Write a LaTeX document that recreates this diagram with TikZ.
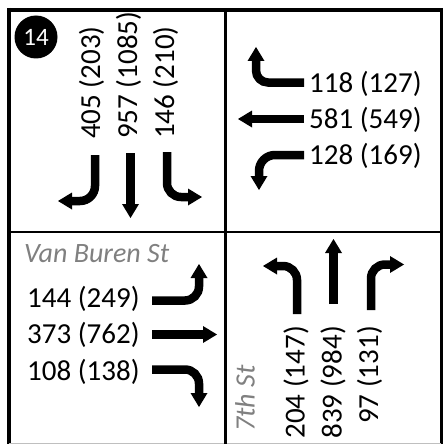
\documentclass[tikz,border=0pt]{standalone}
\usepackage{fontspec}
\setmainfont{Carlito}
\usetikzlibrary{arrows.meta}
\definecolor{labelgray}{RGB}{128,128,128}
\begin{document}
\begin{tikzpicture}[x=1pt,y=-1pt,
  num/.style={font=\fontsize{29}{29}\selectfont, inner sep=0pt},
  street/.style={font=\fontsize{28}{28}\selectfont\itshape, text=labelgray, inner sep=0pt},
  mv/.style={line width=8.5pt, -{Triangle[length=14pt 0 0,width=17pt 0 0,line width=0pt 0 0]}},
  frame/.style={line width=4pt},
  divider/.style={line width=2.7pt}]
\useasboundingbox (0,0) rectangle (443,444);
\fill[white] (0,0) rectangle (443,444);
% frame
\draw[frame] (7,10) -- (443,10);
\draw[frame] (9,8) -- (9,444);
\draw[line width=2.6pt] (441.7,8) -- (441.7,444);
\draw[black!25, line width=1pt] (9,443.5) -- (441,443.5);
% dividers
\draw[divider] (225.5,10) -- (225.5,444);
\draw[divider] (9,232) -- (441,232);
% badge
\node[circle, fill=black, minimum size=43pt, inner sep=0pt, text=white,
      font=\fontsize{25}{25}\selectfont] (badge) at (36,37) {14};
% southbound (top-left)
\node[num, rotate=90, anchor=base west] (s1) at (100,139) {405 (203)};
\node[num, rotate=90, anchor=base west] (s2) at (137,139) {957 (1085)};
\node[num, rotate=90, anchor=base west] (s3) at (174,139) {146 (210)};
\draw[mv, rounded corners=15pt] (95,155) -- (95,201) -- (58,201);
\draw[mv] (130.5,153) -- (130.5,218);
\draw[mv, rounded corners=14pt] (167,152) -- (167,197) -- (202,197);
% westbound (top-right)
\node[num, anchor=base west] (w1) at (309,92.5) {118 (127)};
\node[num, anchor=base west] (w2) at (309,128.5) {581 (549)};
\node[num, anchor=base west] (w3) at (309,164.5) {128 (169)};
\draw[mv, rounded corners=12pt] (304,82.5) -- (256,82.5) -- (256,47);
\draw[mv] (304,119) -- (238,119);
\draw[mv, rounded corners=16pt] (304,155) -- (259,155) -- (259,190);
% eastbound (bottom-left)
\node[street, anchor=base west] (vb) at (24,262) {Van Buren St};
\node[num, anchor=base west] (e1) at (27,307) {144 (249)};
\node[num, anchor=base west] (e2) at (27,343) {373 (762)};
\node[num, anchor=base west] (e3) at (27,380) {108 (138)};
\draw[mv, rounded corners=14pt] (152,300.5) -- (199,300.5) -- (199,264);
\draw[mv] (152,334.5) -- (217,334.5);
\draw[mv, rounded corners=14pt] (152,369.5) -- (199,369.5) -- (199,407);
% northbound (bottom-right)
\node[street, rotate=90, anchor=base west] (st7) at (254.5,432) {7th St};
\node[num, rotate=90, anchor=base east] (n1) at (304.5,326) {204 (147)};
\node[num, rotate=90, anchor=base east] (n2) at (341.5,326) {839 (984)};
\node[num, rotate=90, anchor=base east] (n3) at (378,326) {97 (131)};
\draw[mv, rounded corners=14pt] (297,314) -- (297,266) -- (263,266);
\draw[mv] (333.5,304) -- (333.5,239);
\draw[mv, rounded corners=14pt] (371,310) -- (371,264.5) -- (404,264.5);
\end{tikzpicture}
\end{document}
